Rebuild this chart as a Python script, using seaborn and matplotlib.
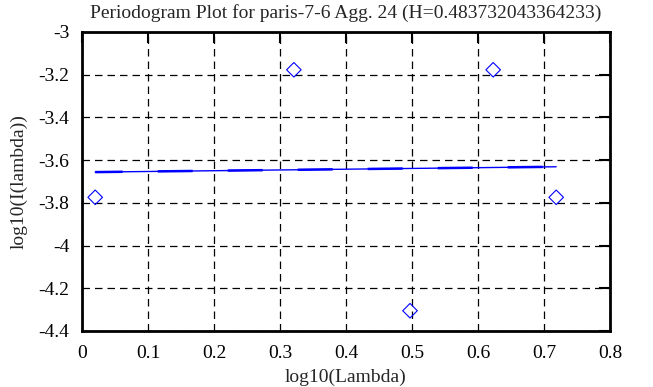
import pandas as pd
import seaborn as sns
import matplotlib.pyplot as plt

# periodogram points (log10 lambda, log10 I(lambda))
log_lambda = [0.020, 0.321, 0.497, 0.623, 0.7185]
log_I = [-3.774, -3.177, -4.305, -3.177, -3.774]

# fitted line end points
fit_x = [0.020, 0.7185]
fit_y = [-3.656, -3.631]

x_ticks = [0, 0.1, 0.2, 0.3, 0.4, 0.5, 0.6, 0.7, 0.8]
x_labels = ["0", "0.1", "0.2", "0.3", "0.4", "0.5", "0.6", "0.7", "0.8"]
y_ticks = [-4.4, -4.2, -4, -3.8, -3.6, -3.4, -3.2, -3]
y_labels = ["-4.4", "-4.2", "-4", "-3.8", "-3.6", "-3.4", "-3.2", "-3"]

sns.set_style("white")
plt.rcParams['font.family'] = ['Liberation Serif', 'DejaVu Serif']
plt.rcParams['font.size'] = 14

df = pd.DataFrame({"x": log_lambda, "y": log_I})
fit = pd.DataFrame({"x": fit_x, "y": fit_y})

fig = plt.figure(figsize=(6.53, 3.87), dpi=100)
ax = fig.add_axes([82/653, 1 - 331/387, 528/653, 299/387])

# fitted line (thin solid + thicker dashes on top)
sns.lineplot(x="x", y="y", data=fit, ax=ax, color="blue", linewidth=1)
sns.lineplot(x="x", y="y", data=fit, ax=ax, color="blue", linewidth=1.8,
             dashes=False, linestyle=(3, (14, 14)))

# points
sns.scatterplot(x="x", y="y", data=df, ax=ax, marker="D", s=55,
                facecolor="none", edgecolor="blue", linewidth=0.8)

ax.set_xlim(0, 0.8)
ax.set_ylim(-4.4, -3)
ax.set_xticks(x_ticks)
ax.set_xticklabels(x_labels)
ax.set_yticks(y_ticks)
ax.set_yticklabels(y_labels)
ax.grid(True, color="black", linestyle=(0, (6, 4)), linewidth=0.9)
ax.tick_params(direction="in", length=8, width=1.5, top=True, right=True,
               labelsize=14, colors="black")
ax.tick_params(axis="x", pad=10)
ax.tick_params(axis="y", pad=9)
for s in ax.spines.values():
    s.set_linewidth(2)
    s.set_color("black")

ax.set_xlabel("log10(Lambda)", fontsize=14, labelpad=5)
ax.set_ylabel("log10(I(lambda))", fontsize=14, labelpad=8)
ax.set_title("Periodogram Plot for paris-7-6 Agg. 24 (H=0.483732043364233)",
             fontsize=14, pad=10)

fig.savefig("out.png", dpi=100)
